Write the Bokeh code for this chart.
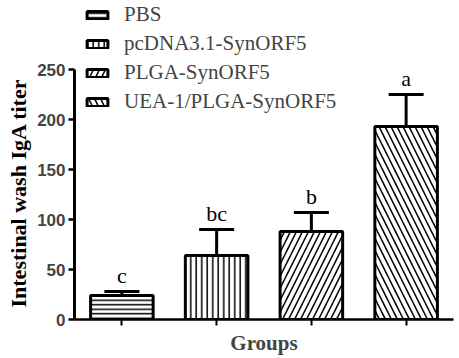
from bokeh.plotting import figure
from bokeh.models import (FixedTicker, Whisker, ColumnDataSource, Legend, LegendItem,
                          TeeHead, Range1d, Title)
from bokeh.core.properties import value
from bokeh.embed import file_html
from bokeh.resources import INLINE

groups = ["PBS", "pcDNA3.1-SynORF5", "PLGA-SynORF5", "UEA-1/PLGA-SynORF5"]
means = [24, 64, 88, 193]
errors = [4, 26, 19, 32]
letters = ["c", "bc", "b", "a"]
hatches = ["horizontal_line", "vertical_line", "right_diagonal_line", "left_diagonal_line"]
hatch_scales = [4.5, 5.5, 12, 12]
y_ticks = [0, 50, 100, 150, 200, 250]

xs = list(range(len(groups)))
upper = [m + e for m, e in zip(means, errors)]

source = ColumnDataSource(dict(x=xs, mean=means, upper=upper, letter=letters,
                               hatch=hatches, hscale=hatch_scales, group=groups))

p = figure(width=459, height=358, output_backend="svg", toolbar_location=None,
           x_range=Range1d(-0.5, 3.5), y_range=Range1d(0, 319),
           min_border_left=73, min_border_right=6, min_border_top=0, min_border_bottom=39)
p.outline_line_color = None
p.grid.visible = False
p.background_fill_color = "white"
p.border_fill_color = "white"

bars = p.vbar(x="x", top="mean", bottom=0, width=0.66, source=source,
              fill_color="white", line_color="black", line_width=3,
              hatch_pattern="hatch", hatch_scale="hscale", hatch_weight=1.5,
              hatch_color="black")

whisk = Whisker(base="x", upper="upper", lower="mean", source=source,
                line_width=3, line_color="black",
                upper_head=TeeHead(size=35, line_width=3, line_color="black"),
                lower_head=None)
p.add_layout(whisk)

p.text(x="x", y="upper", text="letter", source=source, text_align="center",
       text_baseline="bottom", y_offset=-4, text_font=value("Liberation Serif"),
       text_font_size="22px", text_color="black")

items = [LegendItem(label=g, renderers=[bars], index=i) for i, g in enumerate(groups)]
legend = Legend(items=items, location=(10, 205), padding=0, margin=0, spacing=4,
                glyph_width=26, glyph_height=10, label_standoff=14,
                label_text_font="Liberation Serif", label_text_font_size="21px",
                background_fill_alpha=0, border_line_color=None)
p.add_layout(legend)

# y axis
p.yaxis.ticker = FixedTicker(ticks=y_ticks)
p.yaxis.bounds = (0, 250)
p.yaxis.axis_line_width = 3
p.yaxis.major_tick_line_width = 2.5
p.yaxis.major_tick_out = 6
p.yaxis.major_tick_in = 0
p.yaxis.minor_tick_line_color = None
p.yaxis.major_label_text_font = "Liberation Sans"
p.yaxis.major_label_text_font_style = "bold"
p.yaxis.major_label_text_font_size = "17px"
p.yaxis.major_label_standoff = 3

ytitle = Title(text="Intestinal wash IgA titer", align="left", offset=12, standoff=7,
               text_font="Liberation Serif", text_font_style="bold",
               text_font_size="22px", text_color="black")
p.add_layout(ytitle, "left")

# x axis
p.xaxis.ticker = FixedTicker(ticks=xs)
p.xaxis.major_label_overrides = {i: "" for i in xs}
p.xaxis.major_label_text_font_size = "0px"
p.xaxis.major_label_standoff = 0
p.xaxis.axis_line_width = 2.5
p.xaxis.major_tick_line_width = 2
p.xaxis.major_tick_out = 6
p.xaxis.major_tick_in = 0
p.xaxis.minor_tick_line_color = None
p.xaxis.axis_label = "Groups"
p.xaxis.axis_label_text_font = "Liberation Serif"
p.xaxis.axis_label_text_font_style = "bold"
p.xaxis.axis_label_text_font_size = "21px"
p.xaxis.axis_label_standoff = 5

open("out.html", "w").write(file_html(p, INLINE))
